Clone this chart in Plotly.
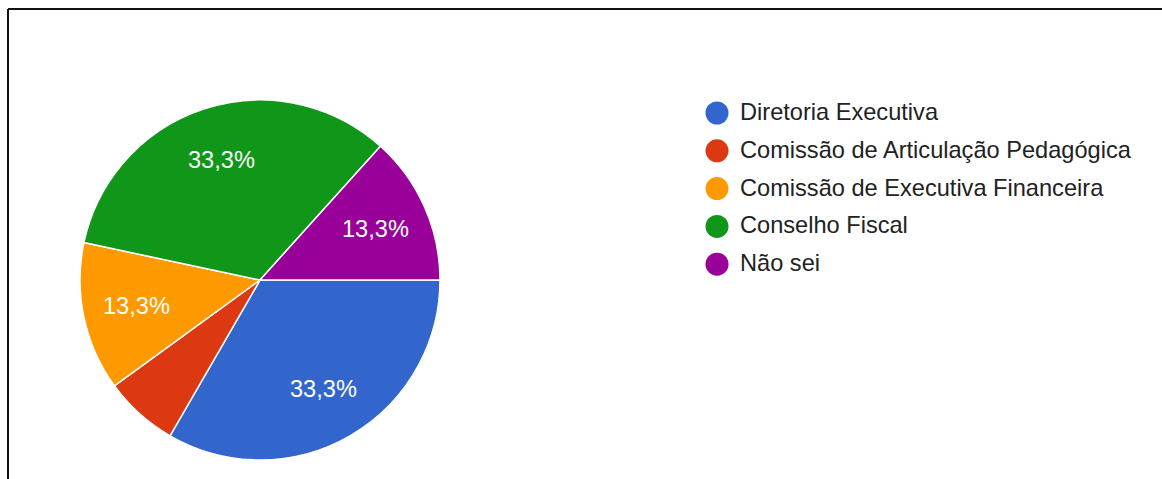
import numpy as np
import plotly.graph_objects as go

# Responses per option
categories = [
    "Diretoria Executiva",
    "Comissão de Articulação Pedagógica",
    "Comissão de Executiva Financeira",
    "Conselho Fiscal",
    "Não sei",
]
responses = [5, 1, 2, 5, 2]
colors = ["#3366cc", "#dc3912", "#ff9900", "#109618", "#990099"]

W, H = 1162, 479
FONT = "Arial, 'Liberation Sans', sans-serif"
TXT = 23.6

# Pie geometry in page pixels
CX, CY, R = 260, 280, 180
START = 90  # first slice starts at 3 o'clock, going clockwise

fig = go.Figure()

fig.add_trace(go.Pie(
    labels=categories,
    values=responses,
    sort=False,
    direction="clockwise",
    rotation=START,
    marker=dict(colors=colors, line=dict(color="white", width=1.5)),
    textinfo="none",
    showlegend=False,
    hoverinfo="label+percent",
    domain=dict(x=[(CX - R) / W, (CX + R) / W], y=[(H - CY - R) / H, (H - CY + R) / H]),
))

# Percentage labels on each slice's mid-angle (small slices stay unlabelled)
vals = np.array(responses, dtype=float)
share = vals / vals.sum()
ends = START + np.cumsum(share) * 360
mids = np.radians(ends - share * 360 / 2)
for p, a in zip(share, mids):
    if p < 0.1:
        continue
    fig.add_annotation(
        x=CX + 0.7 * R * np.sin(a), y=CY - 0.7 * R * np.cos(a),
        xref="x", yref="y", showarrow=False,
        text=f"{p * 100:.1f}%".replace(".", ","),
        xanchor="center", yanchor="middle",
        font=dict(family=FONT, size=TXT, color="white"),
    )

# Legend: round swatches with labels
idx = np.arange(len(categories))
leg_y = 113 + 37.8 * idx
fig.add_trace(go.Scatter(
    x=[717] * len(categories), y=leg_y,
    mode="markers",
    marker=dict(symbol="circle", size=23, color=colors, line=dict(width=0)),
    hoverinfo="skip", showlegend=False, cliponaxis=False,
))
for name, yy in zip(categories, leg_y):
    fig.add_annotation(
        x=738, y=yy - 1, xref="x", yref="y", text=name, showarrow=False,
        xanchor="left", yanchor="middle",
        font=dict(family=FONT, size=TXT, color="#222222"),
    )

fig.update_layout(
    width=W, height=H,
    margin=dict(l=0, r=0, t=0, b=0),
    paper_bgcolor="white",
    plot_bgcolor="rgba(0,0,0,0)",
    showlegend=False,
    xaxis=dict(visible=False, range=[0, W], domain=[0, 1], fixedrange=True),
    yaxis=dict(visible=False, range=[H, 0], domain=[0, 1], fixedrange=True),
    shapes=[
        # Frame along the top and left edges
        dict(type="line", xref="paper", yref="paper",
             x0=8 / W, x1=1.0, y0=(H - 9) / H, y1=(H - 9) / H,
             line=dict(color="#111111", width=2)),
        dict(type="line", xref="paper", yref="paper",
             x0=8 / W, x1=8 / W, y0=0, y1=(H - 9) / H,
             line=dict(color="#111111", width=2)),
    ],
)

fig.write_html("out.html")
